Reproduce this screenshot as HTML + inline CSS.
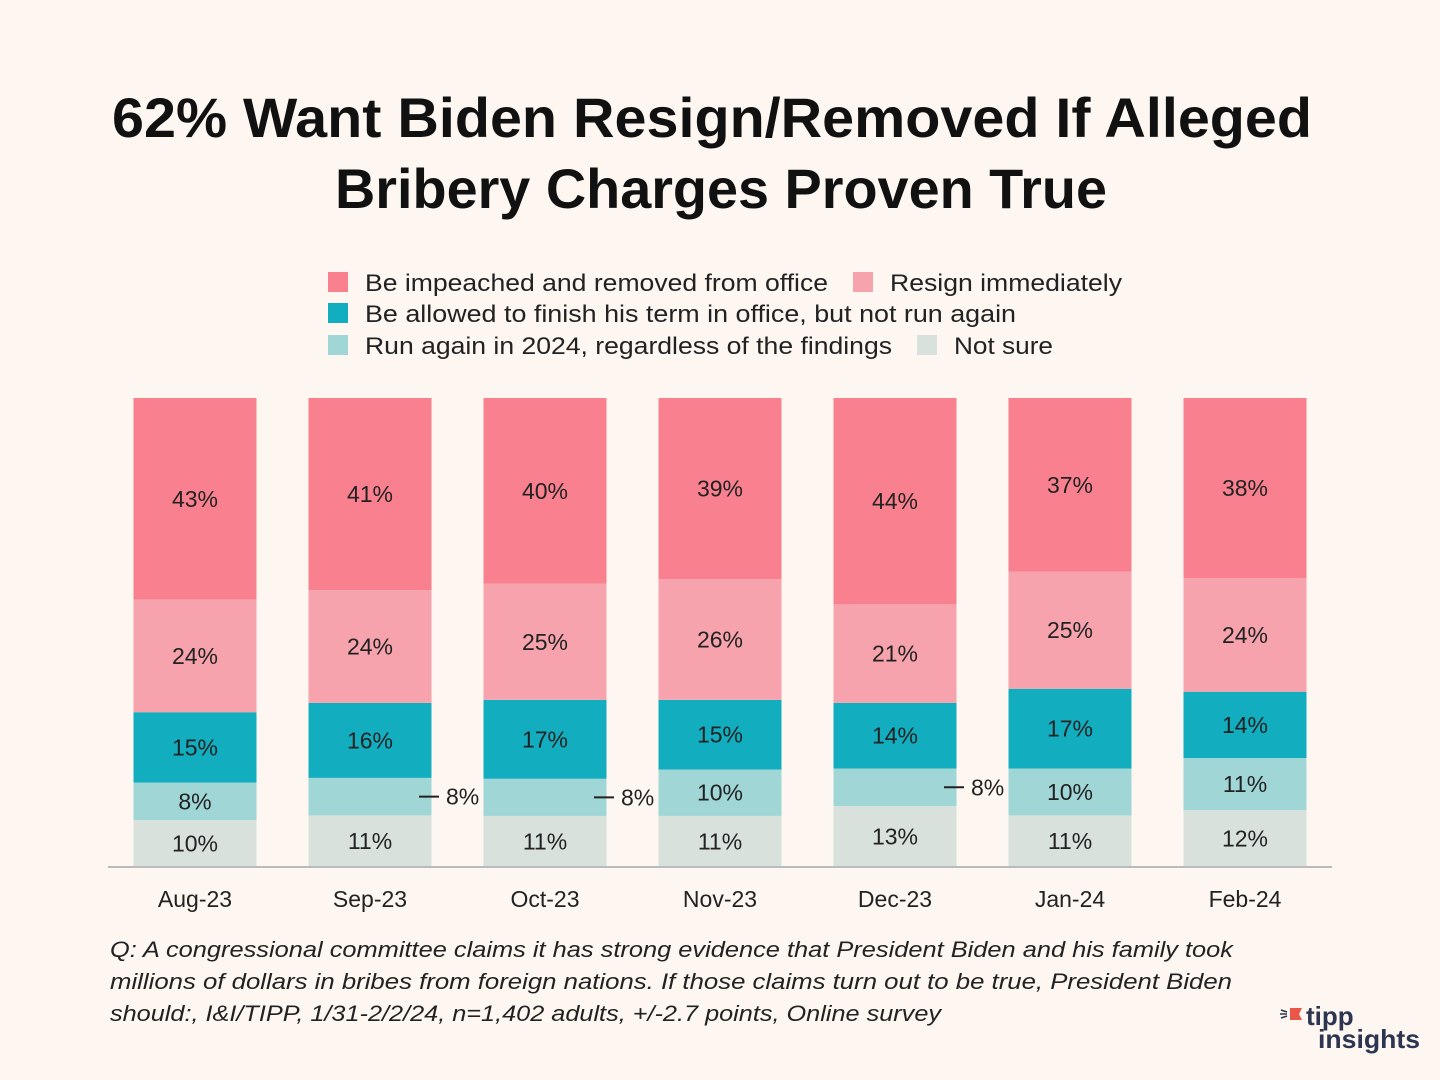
<!DOCTYPE html>
<html><head><meta charset="utf-8"><style>
html,body{margin:0;padding:0;background:#fdf6f1;}
svg{display:block;font-family:"Liberation Sans",sans-serif;}
</style></head><body>
<svg id="chart" width="1440" height="1080" viewBox="0 0 1440 1080" xmlns="http://www.w3.org/2000/svg">
<rect width="1440" height="1080" fill="#fdf6f1"/>
<text x="712" y="137" text-anchor="middle" font-size="56" font-weight="bold" fill="#111" textLength="1200" lengthAdjust="spacingAndGlyphs">62% Want Biden Resign/Removed If Alleged</text>
<text x="721" y="208" text-anchor="middle" font-size="56" font-weight="bold" fill="#111" textLength="772" lengthAdjust="spacingAndGlyphs">Bribery Charges Proven True</text>
<g font-size="24" fill="#222">
 <g><rect x="328" y="272" width="20" height="20" fill="#f9818f"/><text x="365" y="291" textLength="463" lengthAdjust="spacingAndGlyphs">Be impeached and removed from office</text></g>
 <g><rect x="853" y="272" width="20" height="20" fill="#f6a3ad"/><text x="890" y="291" textLength="232" lengthAdjust="spacingAndGlyphs">Resign immediately</text></g>
 <g><rect x="328" y="303" width="20" height="20" fill="#12aec0"/><text x="365" y="322" textLength="651" lengthAdjust="spacingAndGlyphs">Be allowed to finish his term in office, but not run again</text></g>
 <g><rect x="328" y="335" width="20" height="20" fill="#a0d6d6"/><text x="365" y="354" textLength="527" lengthAdjust="spacingAndGlyphs">Run again in 2024, regardless of the findings</text></g>
 <g><rect x="917" y="335" width="20" height="20" fill="#d8e1dc"/><text x="954" y="354" textLength="99" lengthAdjust="spacingAndGlyphs">Not sure</text></g>
</g>
<g id="bars"></g>
<line x1="108" y1="867" x2="1332" y2="867" stroke="#bbb" stroke-width="2"/>
<g id="xlabels" font-size="23" fill="#222"></g>
<g font-size="22" font-style="italic" fill="#222">
<text x="110" y="957" textLength="1123" lengthAdjust="spacingAndGlyphs">Q: A congressional committee claims it has strong evidence that President Biden and his family took</text>
<text x="110" y="989" textLength="1122" lengthAdjust="spacingAndGlyphs">millions of dollars in bribes from foreign nations. If those claims turn out to be true, President Biden</text>
<text x="110" y="1021" textLength="831" lengthAdjust="spacingAndGlyphs">should:, I&amp;I/TIPP, 1/31-2/2/24, n=1,402 adults, +/-2.7 points,  Online survey</text>
</g>
<g>
<path d="M1290 1008 h12 l-3 6 l3 6 h-12 z" fill="#e8574a"/>
<line x1="1281" y1="1010" x2="1287" y2="1012" stroke="#2d3650" stroke-width="1.5"/>
<line x1="1280" y1="1014" x2="1287" y2="1014" stroke="#2d3650" stroke-width="1.5"/>
<line x1="1281" y1="1018" x2="1287" y2="1016" stroke="#2d3650" stroke-width="1.5"/>
<text x="1306" y="1025" font-size="26" font-weight="bold" fill="#2d3650">tipp</text>
<text x="1318" y="1048" font-size="26" font-weight="bold" fill="#2d3650" textLength="102" lengthAdjust="spacingAndGlyphs">insights</text>
</g>
</svg>
<script>
const categories = ["Aug-23","Sep-23","Oct-23","Nov-23","Dec-23","Jan-24","Feb-24"];
const impeached = [43,41,40,39,44,37,38];
const resign = [24,24,25,26,21,25,24];
const finishTerm = [15,16,17,15,14,17,14];
const runAgain = [8,8,8,10,8,10,11];
const notSure = [10,11,11,11,13,11,12];
const outsideLabel = [false,true,true,false,true,false,false];

const NS = "http://www.w3.org/2000/svg";
const plotTop = 398, plotBottom = 867, firstCenter = 195, step = 175, barW = 123;
const xCenter = i => firstCenter + i * step;
const series = [
  {name:"not-sure", vals:notSure, color:"#d8e1dc"},
  {name:"run-again", vals:runAgain, color:"#a0d6d6"},
  {name:"finish-term", vals:finishTerm, color:"#12aec0"},
  {name:"resign", vals:resign, color:"#f6a3ad"},
  {name:"impeached", vals:impeached, color:"#f9818f"}
];
const bars = document.getElementById("bars");
const xl = document.getElementById("xlabels");
categories.forEach((cat, i) => {
  const total = series.reduce((s, se) => s + se.vals[i], 0);
  const yScale = v => (plotBottom - plotTop) * v / total;
  let y = plotBottom;
  series.forEach(se => {
    const v = se.vals[i];
    const h = yScale(v);
    y -= h;
    const r = document.createElementNS(NS, "rect");
    r.setAttribute("x", xCenter(i) - barW / 2);
    r.setAttribute("y", y);
    r.setAttribute("width", barW);
    r.setAttribute("height", h);
    r.setAttribute("fill", se.color);
    
    
    bars.appendChild(r);
    const cy = y + h / 2;
    const t = document.createElementNS(NS, "text");
    t.setAttribute("font-size", "23");
    t.setAttribute("fill", "#222");
    t.textContent = v + "%";
    if (se.name === "run-again" && outsideLabel[i]) {
      const ln = document.createElementNS(NS, "line");
      ln.setAttribute("x1", xCenter(i) + 49);
      ln.setAttribute("x2", xCenter(i) + 69);
      ln.setAttribute("y1", cy);
      ln.setAttribute("y2", cy);
      ln.setAttribute("stroke", "#222");
      ln.setAttribute("stroke-width", "2");
      
      
      bars.appendChild(ln);
      t.setAttribute("x", xCenter(i) + 76);
      t.setAttribute("y", cy + 8);
    } else {
      t.setAttribute("x", xCenter(i));
      t.setAttribute("y", cy + 8);
      t.setAttribute("text-anchor", "middle");
    }
    
    
    bars.appendChild(t);
  });
  const lt = document.createElementNS(NS, "text");
  lt.setAttribute("x", xCenter(i));
  lt.setAttribute("y", 907);
  lt.setAttribute("text-anchor", "middle");
  lt.textContent = cat;
  
  
  xl.appendChild(lt);
});
</script>
</body></html>
